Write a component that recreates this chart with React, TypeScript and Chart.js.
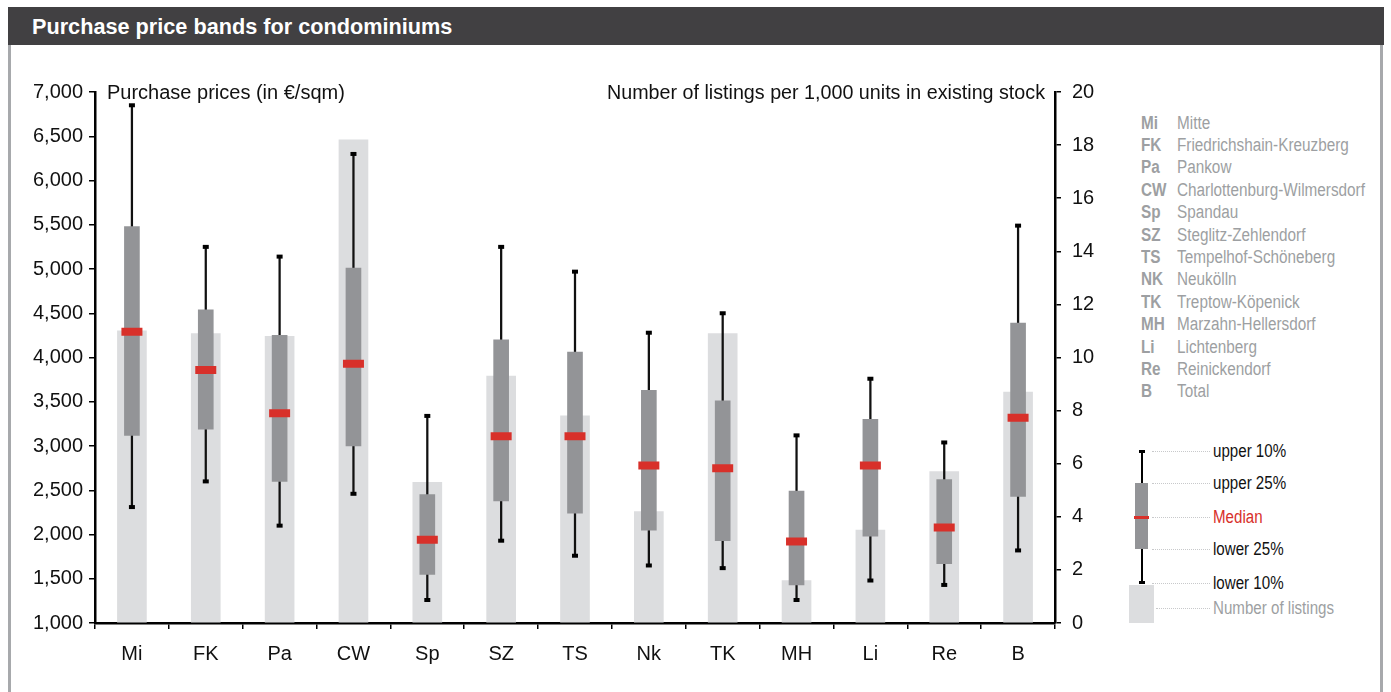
import React, { useEffect, useRef } from "react";
import { Chart, registerables } from "chart.js";

Chart.register(...registerables);

const categories = ["Mi", "FK", "Pa", "CW", "Sp", "SZ", "TS", "Nk", "TK", "MH", "Li", "Re", "B"];
const upper10 = [6850, 5250, 5140, 6300, 3340, 5250, 4970, 4280, 4500, 3120, 3760, 3040, 5490];
const upper25 = [5480, 4540, 4250, 5010, 2450, 4200, 4060, 3630, 3510, 2490, 3300, 2620, 4390];
const medians = [4290, 3860, 3370, 3930, 1940, 3110, 3110, 2780, 2750, 1920, 2780, 2080, 3320];
const lower25 = [3120, 3190, 2600, 3000, 1550, 2380, 2240, 2050, 1930, 1430, 1980, 1670, 2430];
const lower10 = [2310, 2600, 2100, 2460, 1260, 1930, 1760, 1650, 1620, 1260, 1480, 1430, 1820];
const listings = [11.0, 10.9, 10.8, 18.2, 5.3, 9.3, 7.8, 4.2, 10.9, 1.6, 3.5, 5.7, 8.7];

const priceMin = 1000;
const priceMax = 7000;
const priceStep = 500;
const listingMin = 0;
const listingMax = 20;
const listingStep = 2;

const chartTitle = "Purchase price bands for condominiums";
const leftAxisTitle = "Purchase prices (in €/sqm)";
const rightAxisTitle = "Number of listings per 1,000 units in existing stock";

const legendAbbr = ["Mi", "FK", "Pa", "CW", "Sp", "SZ", "TS", "NK", "TK", "MH", "Li", "Re", "B"];
const legendNames = [
  "Mitte",
  "Friedrichshain-Kreuzberg",
  "Pankow",
  "Charlottenburg-Wilmersdorf",
  "Spandau",
  "Steglitz-Zehlendorf",
  "Tempelhof-Schöneberg",
  "Neukölln",
  "Treptow-Köpenick",
  "Marzahn-Hellersdorf",
  "Lichtenberg",
  "Reinickendorf",
  "Total",
];
const keyLabels = ["upper 10%", "upper 25%", "Median", "lower 25%", "lower 10%", "Number of listings"];

const AXIS_FONT = '"Liberation Sans", Arial, sans-serif';
const BOX_GRAY = "#939497";
const LIGHT_GRAY = "#dcdddf";
const RED = "#d8302a";
const LEGEND_GRAY = "#9d9fa2";

const axisTitlesPlugin = {
  id: "axisTitles",
  afterDraw(chart: any) {
    const { ctx, chartArea } = chart;
    ctx.save();
    ctx.font = `20px ${AXIS_FONT}`;
    ctx.fillStyle = "#111";
    ctx.textBaseline = "middle";
    ctx.textAlign = "left";
    ctx.fillText(leftAxisTitle, chartArea.left + 12, chartArea.top + 1);
    ctx.textAlign = "right";
    ctx.fillText(rightAxisTitle, chartArea.right - 10, chartArea.top + 1, 438);
    ctx.restore();
  },
};

function ChartCanvas() {
  const ref = useRef<HTMLCanvasElement | null>(null);
  useEffect(() => {
    if (!ref.current) return;
    const tickFont = { family: AXIS_FONT, size: 20 };
    const chart = new Chart(ref.current, {
      type: "bar",
      data: {
        labels: categories,
        datasets: [
          {
            type: "line",
            label: "upper 10%",
            data: upper10,
            showLine: false,
            pointStyle: "line",
            pointRadius: 3,
            pointBorderWidth: 4,
            pointBorderColor: "#000",
            pointBackgroundColor: "#000",
            yAxisID: "y",
            order: 0,
          },
          {
            type: "line",
            label: "lower 10%",
            data: lower10,
            showLine: false,
            pointStyle: "line",
            pointRadius: 3,
            pointBorderWidth: 4,
            pointBorderColor: "#000",
            pointBackgroundColor: "#000",
            yAxisID: "y",
            order: 0,
          },
          {
            type: "line",
            label: "Median",
            data: medians,
            showLine: false,
            pointStyle: "line",
            pointRadius: 10.5,
            pointBorderWidth: 8,
            pointBorderColor: RED,
            pointBackgroundColor: RED,
            yAxisID: "y",
            order: 1,
          },
          {
            type: "bar",
            label: "25-75%",
            data: categories.map((_, i) => [lower25[i], upper25[i]]),
            backgroundColor: BOX_GRAY,
            barThickness: 15,
            grouped: false,
            yAxisID: "y",
            order: 2,
          },
          {
            type: "bar",
            label: "10-90%",
            data: categories.map((_, i) => [lower10[i], upper10[i]]),
            backgroundColor: "#111",
            barThickness: 1.6,
            grouped: false,
            yAxisID: "y",
            order: 3,
          },
          {
            type: "bar",
            label: "Number of listings",
            data: listings,
            backgroundColor: LIGHT_GRAY,
            barThickness: 29,
            grouped: false,
            yAxisID: "y2",
            order: 4,
          },
        ],
      },
      options: {
        animation: false,
        responsive: false,
        layout: { padding: { top: 92, left: 0, right: 0, bottom: 0 } },
        plugins: {
          legend: { display: false },
          tooltip: { enabled: false },
        },
        scales: {
          x: {
            offset: true,
            grid: {
              offset: true,
              drawOnChartArea: false,
              drawTicks: true,
              tickLength: 6,
              color: "#000",
              lineWidth: 1.5,
            },
            border: { color: "#000", width: 2.5 },
            ticks: { color: "#111", font: tickFont, padding: 13, maxRotation: 0, autoSkip: false },
            afterFit: (s: any) => {
              s.height = 69;
            },
          },
          y: {
            position: "left",
            min: priceMin,
            max: priceMax,
            grid: { drawOnChartArea: false, tickLength: 6, color: "#000", lineWidth: 1.5 },
            border: { color: "#000", width: 2.5 },
            ticks: { stepSize: priceStep, color: "#111", font: tickFont, padding: 6 },
            afterFit: (s: any) => {
              s.width = 95;
            },
          },
          y2: {
            position: "right",
            min: listingMin,
            max: listingMax,
            grid: { drawOnChartArea: false, tickLength: 6, color: "#000", lineWidth: 1.5 },
            border: { color: "#000", width: 2.5 },
            ticks: { stepSize: listingStep, color: "#111", font: tickFont, padding: 11 },
            afterFit: (s: any) => {
              s.width = 55;
            },
          },
        },
      },
      plugins: [axisTitlesPlugin],
    } as any);
    return () => chart.destroy();
  }, []);
  return (
    <canvas
      ref={ref}
      width={1110}
      height={692}
      style={{ position: "absolute", left: 0, top: 0, width: 1110, height: 692 }}
    />
  );
}

function NarrowText(props: {
  left: number;
  centerY: number;
  size: number;
  color: string;
  bold?: boolean;
  scale: number;
  children: React.ReactNode;
}) {
  const h = Math.round(props.size * 1.3);
  return (
    <div
      style={{
        position: "absolute",
        left: props.left,
        top: props.centerY - h / 2,
        height: h,
        lineHeight: `${h}px`,
        fontFamily: AXIS_FONT,
        fontWeight: props.bold ? "bold" : "normal",
        fontSize: props.size,
        color: props.color,
        whiteSpace: "nowrap",
        transform: `scaleX(${props.scale})`,
        transformOrigin: "left center",
      }}
    >
      {props.children}
    </div>
  );
}

export default function App() {
  const rowTop = 123;
  const rowStep = 22.4;
  const keyYs = [451, 483, 517, 549, 583, 608];
  return (
    <div
      style={{
        position: "absolute",
        left: 0,
        top: 0,
        width: 1391,
        height: 692,
        background: "#fff",
        overflow: "hidden",
      }}
    >
      <div
        style={{
          position: "absolute",
          left: 8,
          top: 7,
          width: 1376,
          height: 38,
          background: "#414042",
        }}
      />
      <NarrowText left={32} centerY={26} size={22} color="#fff" bold scale={0.985}>
        {chartTitle}
      </NarrowText>
      <div style={{ position: "absolute", left: 8, top: 45, width: 3, height: 647, background: "#a7a9ac" }} />
      <div style={{ position: "absolute", left: 1380, top: 45, width: 3, height: 647, background: "#a7a9ac" }} />
      <ChartCanvas />
      {legendAbbr.map((a, i) => (
        <React.Fragment key={a}>
          <NarrowText left={1141} centerY={rowTop + rowStep * i} size={18} color={LEGEND_GRAY} bold scale={0.85}>
            {a}
          </NarrowText>
          <NarrowText left={1177} centerY={rowTop + rowStep * i} size={18} color={LEGEND_GRAY} scale={0.85}>
            {legendNames[i]}
          </NarrowText>
        </React.Fragment>
      ))}
      {/* key diagram */}
      <div style={{ position: "absolute", left: 1129, top: 585, width: 25, height: 38, background: LIGHT_GRAY }} />
      <div style={{ position: "absolute", left: 1141, top: 451, width: 2, height: 132, background: "#000" }} />
      <div style={{ position: "absolute", left: 1139, top: 450, width: 6, height: 3, background: "#000" }} />
      <div style={{ position: "absolute", left: 1139, top: 581, width: 6, height: 3, background: "#000" }} />
      <div style={{ position: "absolute", left: 1135, top: 483, width: 13, height: 66, background: BOX_GRAY }} />
      <div style={{ position: "absolute", left: 1134, top: 515.5, width: 15, height: 3, background: RED }} />
      {keyYs.map((y, i) => (
        <React.Fragment key={i}>
          <div
            style={{
              position: "absolute",
              left: i === 5 ? 1156 : 1152,
              top: y,
              width: i === 5 ? 54 : 58,
              height: 0,
              borderTop: "1px dotted #c8c9cb",
            }}
          />
          <NarrowText
            left={1213}
            centerY={y}
            size={18}
            color={i === 2 ? RED : i === 5 ? LEGEND_GRAY : "#111"}
            scale={0.84}
          >
            {keyLabels[i]}
          </NarrowText>
        </React.Fragment>
      ))}
    </div>
  );
}
